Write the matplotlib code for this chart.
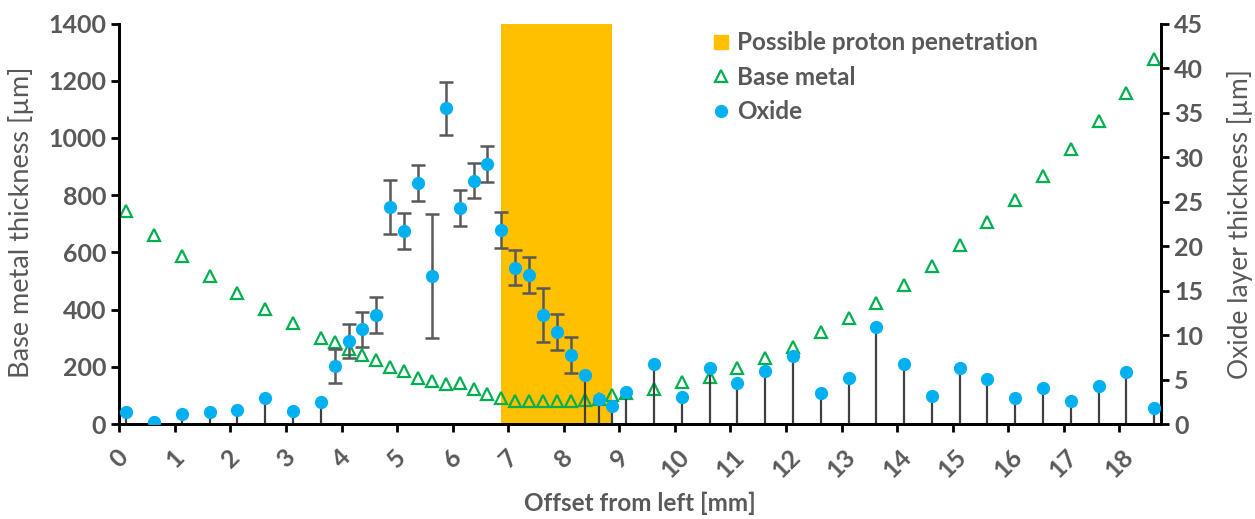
import matplotlib
matplotlib.use("Agg")
from matplotlib import pyplot as plt
from matplotlib.lines import Line2D
import numpy as np

# Offsets from left [mm], one per measurement point
offset = [0.125, 0.625, 1.125, 1.625, 2.125, 2.625, 3.125, 3.625,
          3.875, 4.125, 4.375, 4.625, 4.875, 5.125, 5.375, 5.625, 5.875,
          6.125, 6.375, 6.625, 6.875, 7.125, 7.375, 7.625, 7.875, 8.125,
          8.375, 8.625, 8.875, 9.125,
          9.625, 10.125, 10.625, 11.125, 11.625, 12.125, 12.625, 13.125,
          13.625, 14.125, 14.625, 15.125, 15.625, 16.125, 16.625, 17.125,
          17.625, 18.125, 18.625]

# Base metal thickness [um] (left axis)
base_metal = [746, 661, 587, 517, 457, 401, 352, 302,
              286, 261, 240, 224, 198, 186, 160, 151, 140,
              144, 122, 104, 92, 81, 81, 81, 81, 81,
              84, 88, 100, 110,
              121, 148, 165, 195, 232, 270, 320, 369,
              424, 486, 552, 626, 707, 783, 868, 960,
              1059, 1158, 1276]

# Oxide layer thickness [um] (right axis) and its error (0 = no error bar)
oxide = [1.31, 0.19, 1.12, 1.31, 1.57, 2.88, 1.5, 2.43,
         6.5, 9.36, 10.64, 12.25, 24.4, 21.7, 27.1, 16.66, 35.47,
         24.3, 27.34, 29.2, 21.8, 17.56, 16.74, 12.25, 10.37, 7.75,
         5.5, 2.77, 2.06, 3.63,
         6.74, 3.07, 6.26, 4.57, 6.0, 7.64, 3.52, 5.2,
         10.86, 6.7, 3.15, 6.33, 5.06, 2.92, 4.08, 2.58,
         4.3, 5.84, 1.76]
oxide_err = [0, 0, 0, 0, 0, 0, 0, 0,
             1.9, 1.9, 2.0, 2.0, 3.0, 2.0, 2.0, 6.95, 2.95,
             2.0, 2.0, 2.0, 2.0, 1.95, 2.0, 3.0, 2.0, 2.0,
             0, 0, 0, 0,
             0, 0, 0, 0, 0, 0, 0, 0,
             0, 0, 0, 0, 0, 0, 0, 0,
             0, 0, 0]

# Region of possible proton penetration [mm]
proton_region = (6.875, 8.875)

x_ticks = list(range(0, 19))

grey = "#595959"
plt.rcParams["font.family"] = ["Lato", "DejaVu Sans"]

fig = plt.figure(figsize=(12.55, 5.19), dpi=100)
ax = fig.add_axes([0.0951, 0.183, 0.830, 0.7717])
ax2 = ax.twinx()

ax.axvspan(proton_region[0], proton_region[1], color="#FFC000", zorder=0, lw=0)
ax.plot(offset, base_metal, linestyle="none", marker="^", markersize=8,
        markerfacecolor="none", markeredgecolor="#00B050", markeredgewidth=1.6)

x = np.array(offset)
y = np.array(oxide)
e = np.array(oxide_err)
has_err = e > 0
ax2.vlines(x[~has_err], 0, y[~has_err], color="#404040", lw=1.6, zorder=1)
ax2.errorbar(x[has_err], y[has_err], yerr=e[has_err], fmt="none",
             ecolor=grey, elinewidth=1.8, capsize=5, capthick=1.8, zorder=2)
ax2.plot(x, y, linestyle="none", marker="o", markersize=8.5,
         color="#00B0F0", zorder=3)

ax.set_xlim(0, 18.75)
ax.set_ylim(0, 1400)
ax2.set_ylim(0, 45)
ax.set_yticks(range(0, 1401, 200))
ax2.set_yticks(range(0, 46, 5))
ax.set_xticks(x_ticks)
ax.set_xticklabels([str(t) for t in x_ticks], rotation=45, ha="center")

for a in (ax, ax2):
    for s in a.spines.values():
        s.set_linewidth(2)
    a.spines["top"].set_visible(False)
    a.tick_params(axis="both", length=6, width=2, color="black",
                  labelsize=18, labelcolor=grey)
    for lbl in a.get_xticklabels() + a.get_yticklabels():
        lbl.set_fontweight("bold")
ax.tick_params(axis="x", pad=9)

ax.set_ylabel("Base metal thickness [µm]", fontsize=19.5, color=grey)
ax2.set_ylabel("Oxide layer thickness [µm]", fontsize=19, color=grey)
ax.set_xlabel("Offset from left [mm]", fontsize=17.5, color=grey, fontweight="bold")
ax.yaxis.set_label_coords(-0.082, 0.503)
ax2.yaxis.set_label_coords(1.0635, 0.5)
ax.xaxis.set_label_coords(0.5, -0.17)

handles = [
    Line2D([], [], linestyle="none", marker="s", markersize=10,
           color="#FFC000", label="Possible proton penetration"),
    Line2D([], [], linestyle="none", marker="^", markersize=8,
           markerfacecolor="none", markeredgecolor="#00B050",
           markeredgewidth=1.6, label="Base metal"),
    Line2D([], [], linestyle="none", marker="o", markersize=8.5,
           color="#00B0F0", label="Oxide"),
]
leg = ax2.legend(handles=handles, loc="upper left", frameon=False,
                 bbox_to_anchor=(0.559, 1.005), fontsize=17.5, handlelength=0.8,
                 handletextpad=0.25, labelspacing=0.47, borderaxespad=0)
for t in leg.get_texts():
    t.set_color(grey)
    t.set_fontweight("bold")

fig.savefig("out.png", dpi=100)
